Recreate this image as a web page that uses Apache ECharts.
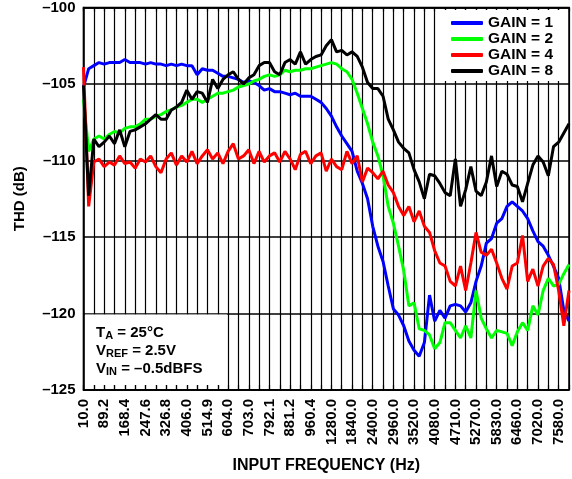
<!DOCTYPE html>
<html><head><meta charset="utf-8">
<script src="https://cdn.jsdelivr.net/npm/echarts@6/dist/echarts.min.js"></script>
<style>html,body{margin:0;padding:0;background:#fff}#c{width:572px;height:479px}</style>
</head><body><div id="c"></div>
<script>
// Tick labels shown on every second grid position of the x axis
const xTickLabels = ['10.0','89.2','168.4','247.6','326.8','406.0','514.9','604.0','703.0','792.1','881.2','960.4',
  '1280.0','1840.0','2400.0','2960.0','3520.0','4080.0','4710.0','5270.0','5830.0','6460.0','7020.0','7580.0'];
const xStep = 0.5; // samples every half grid position
const seriesNames = ['GAIN = 1','GAIN = 2','GAIN = 4','GAIN = 8'];
const seriesColors = ['#0000ff','#00ff00','#ff0000','#000000'];

const gain1 = [
-105.2,-104.0,-103.8,-103.6,-103.7,-103.6,-103.6,-103.6,-103.4,-103.6,
-103.6,-103.6,-103.7,-103.6,-103.7,-103.7,-103.8,-103.7,-103.8,-103.7,
-103.8,-103.8,-104.4,-104.0,-104.1,-104.1,-104.3,-104.5,-104.5,-104.6,
-104.7,-104.9,-104.8,-104.9,-105.1,-105.4,-105.3,-105.5,-105.5,-105.6,
-105.7,-105.6,-105.8,-105.8,-105.8,-106.0,-106.2,-106.6,-107.1,-107.8,
-108.4,-108.9,-109.4,-110.7,-111.5,-112.5,-114.3,-115.6,-116.6,-118.2,
-119.7,-120.1,-120.8,-121.8,-122.4,-122.8,-121.9,-118.8,-120.5,-119.8,
-120.3,-119.5,-119.4,-119.5,-119.9,-119.3,-117.9,-116.9,-115.4,-115.1,
-114.1,-113.8,-113.0,-112.7,-113.0,-113.3,-113.8,-114.6,-115.3,-115.6,
-116.2,-116.9,-117.7,-119.8,-120.5];
const gain2 = [
-106.0,-109.4,-108.6,-108.4,-108.6,-108.3,-108.1,-108.2,-107.9,-107.8,
-107.8,-107.6,-107.3,-107.3,-107.1,-107.0,-106.8,-106.7,-106.5,-106.4,
-106.2,-106.0,-106.0,-106.2,-106.0,-105.8,-105.6,-105.6,-105.5,-105.4,
-105.2,-105.1,-105.0,-104.8,-104.7,-104.5,-104.4,-104.5,-104.4,-104.1,
-104.2,-104.1,-104.1,-104.0,-104.0,-103.9,-103.8,-103.7,-103.6,-103.7,
-104.0,-104.2,-104.7,-105.6,-106.6,-107.6,-108.8,-109.7,-111.0,-113.0,
-114.1,-115.6,-117.2,-119.5,-119.3,-121.0,-121.1,-121.4,-122.3,-121.9,
-120.6,-120.6,-121.1,-121.6,-120.8,-121.6,-118.5,-120.3,-121.0,-121.6,
-121.1,-121.2,-121.3,-122.1,-121.2,-120.6,-121.1,-119.5,-120.1,-118.5,
-117.7,-118.2,-118.1,-117.4,-116.8];
const gain4 = [
-103.9,-113.0,-110.1,-109.9,-110.4,-110.1,-110.3,-109.7,-110.2,-110.1,
-110.5,-109.9,-110.1,-109.7,-110.4,-110.8,-109.9,-109.5,-110.3,-109.7,
-110.1,-109.4,-110.2,-109.7,-109.3,-109.9,-109.5,-110.2,-109.4,-108.9,
-109.9,-109.7,-109.3,-110.2,-109.4,-110.1,-109.7,-109.5,-110.1,-109.4,
-109.9,-110.6,-109.6,-109.4,-110.2,-109.7,-109.5,-110.7,-109.9,-110.4,
-110.6,-109.4,-110.2,-109.7,-111.4,-110.5,-110.8,-111.2,-110.7,-111.6,
-112.1,-113.0,-113.6,-113.0,-114.0,-113.3,-114.3,-114.7,-115.9,-116.7,
-116.9,-117.9,-118.2,-116.9,-118.5,-116.7,-114.7,-116.0,-116.2,-115.8,
-116.7,-117.7,-118.4,-116.9,-116.7,-114.9,-117.9,-117.1,-118.2,-116.9,
-116.4,-116.8,-118.5,-120.8,-118.5];
const gain8 = [
-105.1,-112.3,-108.6,-109.1,-108.8,-108.4,-108.9,-108.0,-109.1,-108.1,
-108.0,-107.8,-107.6,-107.3,-107.0,-107.3,-107.3,-106.7,-106.5,-106.2,
-105.4,-106.0,-105.5,-105.6,-106.2,-104.7,-105.3,-104.7,-104.4,-104.2,
-104.7,-105.0,-104.6,-104.4,-103.8,-103.6,-103.6,-104.2,-104.4,-103.6,
-103.4,-103.7,-102.9,-103.7,-103.4,-103.2,-103.1,-102.5,-102.1,-102.9,
-102.8,-103.1,-102.9,-103.2,-103.9,-104.9,-105.3,-105.3,-105.8,-107.3,
-108.0,-108.8,-109.2,-109.5,-110.6,-111.4,-112.5,-110.9,-111.0,-111.5,
-112.1,-112.3,-109.9,-113.0,-111.9,-110.4,-112.0,-112.3,-111.4,-109.7,
-111.7,-110.7,-110.9,-111.6,-111.7,-112.7,-111.5,-110.3,-109.7,-110.1,
-111.0,-109.1,-108.8,-108.2,-107.6];

const allSeries = [gain1, gain2, gain4, gain8];
const FONT = '"Liberation Sans", Arial, Helvetica, sans-serif';

const chart = echarts.init(document.getElementById('c'), null, {renderer: 'canvas'});
const option = {
  animation: false,
  backgroundColor: '#fff',
  grid: {left: 83.5, right: 3, top: 5, bottom: 89, show: true, borderColor: '#000', borderWidth: 1.5, backgroundColor: 'transparent'},
  xAxis: [{
    type: 'value', min: 0, max: 47, interval: 1, position: 'bottom',
    axisLine: {show: true, lineStyle: {color: '#000', width: 1.5}},
    axisTick: {show: true, inside: true, length: 5, lineStyle: {color: '#000', width: 1.2}},
    splitLine: {show: true, lineStyle: {color: '#000', width: 1.2}},
    axisLabel: {
      rotate: 90, margin: 9, color: '#000', fontFamily: FONT, fontWeight: 'bold', fontSize: 15,
      formatter: v => (v % 2 === 0 ? xTickLabels[v / 2] : '')
    },
    name: 'INPUT FREQUENCY (Hz)', nameLocation: 'middle', nameGap: 68,
    nameTextStyle: {color: '#000', fontFamily: FONT, fontWeight: 'bold', fontSize: 16}
  }, {
    type: 'value', min: 0, max: 47, interval: 1, position: 'top',
    axisLine: {show: true, lineStyle: {color: '#000', width: 1.5}},
    axisTick: {show: true, inside: true, length: 4, lineStyle: {color: '#000', width: 1.2}},
    splitLine: {show: false}, axisLabel: {show: false}
  }],
  yAxis: {
    type: 'value', min: -125, max: -100, interval: 5,
    axisLine: {show: true, lineStyle: {color: '#000', width: 1.5}},
    axisTick: {show: false},
    splitLine: {show: true, lineStyle: {color: '#000', width: 1.5}},
    axisLabel: {margin: 8, color: '#000', fontFamily: FONT, fontWeight: 'bold', fontSize: 15,
      formatter: v => String(v).replace('-', '\u2013')},
    name: 'THD (dB)', nameLocation: 'middle', nameGap: 56,
    nameTextStyle: {color: '#000', fontFamily: FONT, fontWeight: 'bold', fontSize: 15}
  },
  legend: {
    data: seriesNames, orient: 'vertical', left: 451, top: 15, itemGap: 0, padding: 0,
    itemWidth: 32, itemHeight: 4, icon: 'roundRect', itemStyle: {borderWidth: 0},
    textStyle: {color: '#000', fontFamily: FONT, fontWeight: 'bold', fontSize: 15.5, lineHeight: 15.5, padding: [0,0,0,0]},
    z: 10
  },
  graphic: [
    {type: 'rect', z: 3, shape: {x: 437, y: 10, width: 126, height: 71}, style: {fill: '#fff'}},
    {type: 'rect', z: 3, shape: {x: 85, y: 314.5, width: 142, height: 70.5}, style: {fill: '#fff'}},
    {type: 'text', z: 11, left: 96, top: 325, style: {
      text: '{n|T}{s|A}{n| = 25°C}\n{n|V}{s|REF}{n| = 2.5V}\n{n|V}{s|IN}{n| = \u20130.5dBFS}',
      rich: {
        n: {fontFamily: FONT, fontWeight: 'bold', fontSize: 15, lineHeight: 18, fill: '#000', color: '#000'},
        s: {fontFamily: FONT, fontWeight: 'bold', fontSize: 11, lineHeight: 9, verticalAlign: 'bottom', fill: '#000', color: '#000'}
      }
    }}
  ],
  series: allSeries.map((vals, k) => ({
    name: seriesNames[k], type: 'line', xAxisIndex: 0, showSymbol: false, symbol: 'none',
    color: seriesColors[k],
    lineStyle: {color: seriesColors[k], width: 3},
    data: vals.map((v, i) => [i * xStep, v]),
    z: 2 + k * 0.01
  }))
};
chart.setOption(option);
</script></body></html>
